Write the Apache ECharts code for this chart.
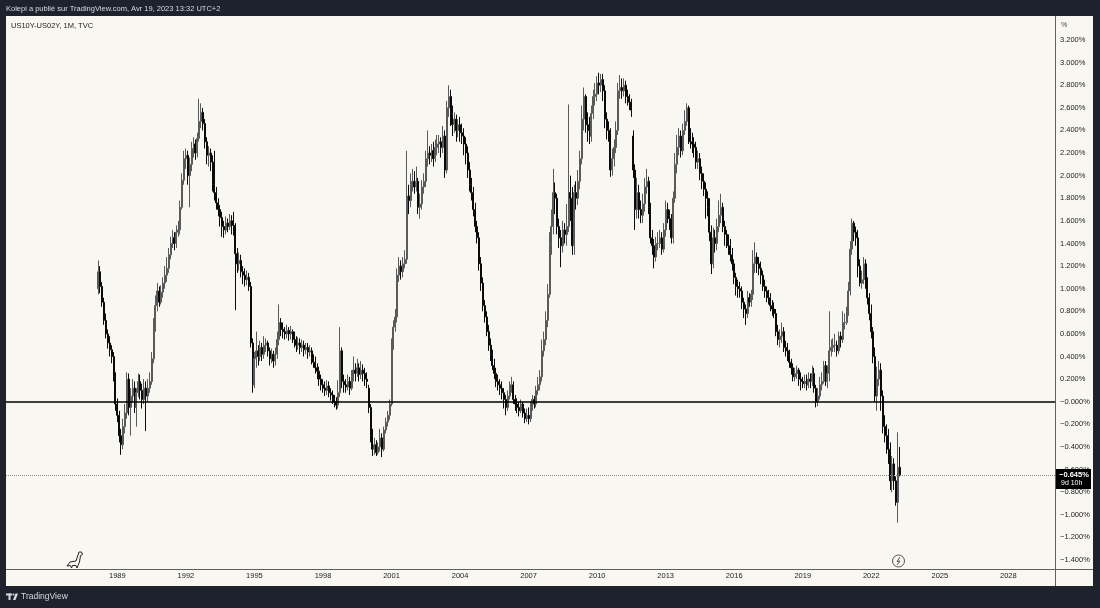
<!DOCTYPE html>
<html>
<head>
<meta charset="utf-8">
<script src="https://cdn.jsdelivr.net/npm/echarts@6/dist/echarts.min.js"></script>
<style>
html, body { margin: 0; padding: 0; background: #1e222d; }
#chart { width: 1100px; height: 608px; }
</style>
</head>
<body>
<div id="chart"></div>
<script>
// US10Y-US02Y monthly candles, 1988-03 .. 2023-04 (values in %)
var firstCandle = '1988-03';
var axisStart = [1984, 3];   // first slot of the time scale
var axisSlots = 551;         // months shown across the pane (to early 2030)
var firstYearLabel = 1989;

var opens = [
  1.00, 1.15, 1.02, 0.88, 0.72, 0.60, 0.52, 0.46, 0.40, 0.22,
  -0.02, -0.12, -0.30, -0.38, -0.22, -0.10, 0.20, -0.05, 0.05, 0.12, -0.05, 0.08,
  0.18, 0.10, 0.02, 0.12, 0.05, 0.12, 0.18, 0.38, 0.68, 0.85, 0.98, 0.88,
  0.97, 1.05, 1.12, 1.18, 1.30, 1.40, 1.45, 1.40, 1.50, 1.52, 1.72, 1.96,
  2.15, 2.18, 2.00, 2.10, 2.24, 2.28, 2.20, 2.33, 2.48, 2.56, 2.46, 2.30,
  2.18, 2.20, 2.12, 1.92, 1.85, 1.76, 1.70, 1.63, 1.55, 1.52, 1.58, 1.55,
  1.60, 1.56, 1.55, 1.31, 1.22, 1.25, 1.15, 1.12, 1.08, 1.10, 1.02, 0.52,
  0.15, 0.38, 0.45, 0.40, 0.48, 0.42, 0.50, 0.52, 0.45, 0.38, 0.42, 0.36,
  0.42, 0.55, 0.70, 0.64, 0.62, 0.60, 0.63, 0.60, 0.62, 0.58, 0.55, 0.50,
  0.52, 0.48, 0.50, 0.46, 0.48, 0.44, 0.45, 0.38, 0.35, 0.30, 0.27, 0.20,
  0.15, 0.12, 0.10, 0.14, 0.08, 0.06, 0.02, 0.00, -0.03, 0.08, 0.45, 0.18,
  0.15, 0.13, 0.18, 0.12, 0.22, 0.28, 0.25, 0.30, 0.24, 0.28, 0.25, 0.20,
  0.12, -0.05, -0.30, -0.42, -0.38, -0.45, -0.40, -0.32, -0.42, -0.25, -0.18, -0.12,
  -0.02, 0.52, 0.66, 0.75, 1.12, 1.20, 1.15, 1.22, 1.26, 1.82, 1.78, 1.92,
  1.95, 1.90, 1.95, 1.72, 1.75, 1.90, 1.95, 2.15, 2.20, 2.18, 2.22, 2.15,
  2.25, 2.28, 2.30, 2.25, 2.35, 2.05, 2.60, 2.70, 2.55, 2.45, 2.50, 2.40,
  2.45, 2.38, 2.35, 2.28, 2.20, 2.05, 1.92, 1.85, 1.70, 1.55, 1.45, 1.22,
  1.05, 0.85, 0.75, 0.62, 0.50, 0.42, 0.32, 0.25, 0.18, 0.15, 0.12, 0.08,
  0.02, -0.05, 0.05, 0.12, 0.15, 0.02, -0.02, -0.05, -0.08, -0.02, -0.10, -0.15,
  -0.12, -0.15, -0.05, 0.02, -0.02, 0.10, 0.15, 0.22, 0.45, 0.55, 0.72, 0.95,
  1.40, 1.55, 1.85, 1.80, 1.55, 1.45, 1.38, 1.52, 1.48, 1.55, 1.85, 1.80,
  1.38, 1.85, 1.80, 1.95, 2.15, 2.50, 2.70, 2.45, 2.40, 2.35, 2.55, 2.70,
  2.72, 2.82, 2.80, 2.85, 2.75, 2.50, 2.40, 2.38, 2.05, 2.15, 2.25, 2.40,
  2.75, 2.78, 2.75, 2.80, 2.70, 2.68, 2.65, 2.35, 2.05, 1.70, 1.85, 1.70,
  1.65, 1.75, 1.90, 1.95, 1.72, 1.45, 1.38, 1.28, 1.40, 1.40, 1.45, 1.35,
  1.52, 1.70, 1.65, 1.62, 1.45, 1.80, 2.10, 2.25, 2.35, 2.22, 2.40, 2.48,
  2.60, 2.35, 2.30, 2.28, 2.25, 2.12, 2.15, 2.02, 1.95, 1.88, 1.80, 1.72,
  1.50, 1.22, 1.45, 1.40, 1.55, 1.65, 1.72, 1.55, 1.48, 1.42, 1.38, 1.30,
  1.22, 1.10, 1.02, 1.00, 0.98, 0.88, 0.82, 0.78, 0.92, 0.88, 0.95, 1.22,
  1.28, 1.22, 1.18, 1.12, 1.02, 0.98, 0.95, 0.92, 0.85, 0.82, 0.78, 0.62,
  0.55, 0.58, 0.62, 0.48, 0.45, 0.42, 0.35, 0.30, 0.22, 0.25, 0.28, 0.20,
  0.18, 0.16, 0.18, 0.15, 0.20, 0.18, 0.25, 0.12, 0.00, 0.05, 0.15, 0.18,
  0.32, 0.18, 0.25, 0.45, 0.48, 0.50, 0.50, 0.45, 0.58, 0.55, 0.70, 0.70,
  0.80, 0.98, 1.35, 1.58, 1.50, 1.45, 1.20, 1.05, 1.08, 1.22, 1.05, 0.92,
  0.78, 0.62, 0.40, 0.05, 0.20, 0.28, 0.05, -0.22, -0.30, -0.40, -0.42, -0.70,
  -0.55, -0.70, -0.89, -0.58
];

var closes = [
  1.15, 1.02, 0.88, 0.72, 0.60, 0.52, 0.46, 0.40, 0.22, -0.02,
  -0.12, -0.30, -0.38, -0.22, -0.10, 0.20, -0.05, 0.05, 0.12, -0.05, 0.08, 0.18,
  0.10, 0.02, 0.12, 0.05, 0.12, 0.18, 0.38, 0.68, 0.85, 0.98, 0.88, 0.97,
  1.05, 1.12, 1.18, 1.30, 1.40, 1.45, 1.40, 1.50, 1.52, 1.72, 1.96, 2.15,
  2.18, 2.00, 2.10, 2.24, 2.28, 2.20, 2.33, 2.48, 2.56, 2.46, 2.30, 2.18,
  2.20, 2.12, 1.92, 1.85, 1.76, 1.70, 1.63, 1.55, 1.52, 1.58, 1.55, 1.60,
  1.56, 1.55, 1.31, 1.22, 1.25, 1.15, 1.12, 1.08, 1.10, 1.02, 0.52, 0.15,
  0.38, 0.45, 0.40, 0.48, 0.42, 0.50, 0.52, 0.45, 0.38, 0.42, 0.36, 0.42,
  0.55, 0.70, 0.64, 0.62, 0.60, 0.63, 0.60, 0.62, 0.58, 0.55, 0.50, 0.52,
  0.48, 0.50, 0.46, 0.48, 0.44, 0.45, 0.38, 0.35, 0.30, 0.27, 0.20, 0.15,
  0.12, 0.10, 0.14, 0.08, 0.06, 0.02, 0.00, -0.03, 0.08, 0.45, 0.18, 0.15,
  0.13, 0.18, 0.12, 0.22, 0.28, 0.25, 0.30, 0.24, 0.28, 0.25, 0.20, 0.18,
  -0.05, -0.30, -0.42, -0.38, -0.45, -0.40, -0.32, -0.42, -0.25, -0.18, -0.12, -0.02,
  0.52, 0.66, 0.75, 1.12, 1.20, 1.15, 1.22, 1.26, 1.82, 1.78, 1.92, 1.95,
  1.90, 1.95, 1.72, 1.75, 1.90, 1.95, 2.15, 2.20, 2.18, 2.22, 2.15, 2.25,
  2.28, 2.30, 2.25, 2.35, 2.05, 2.60, 2.70, 2.55, 2.45, 2.50, 2.40, 2.45,
  2.38, 2.35, 2.28, 2.20, 2.05, 1.92, 1.85, 1.70, 1.55, 1.45, 1.22, 1.05,
  0.85, 0.75, 0.62, 0.50, 0.42, 0.32, 0.25, 0.18, 0.15, 0.12, 0.08, 0.02,
  -0.05, 0.05, 0.12, 0.15, 0.02, -0.02, -0.05, -0.08, -0.02, -0.10, -0.15, -0.12,
  -0.15, -0.05, 0.02, -0.02, 0.10, 0.15, 0.22, 0.45, 0.55, 0.72, 0.95, 1.40,
  1.55, 1.85, 1.80, 1.55, 1.45, 1.38, 1.52, 1.48, 1.55, 1.85, 1.80, 1.38,
  1.85, 1.80, 1.95, 2.15, 2.50, 2.70, 2.45, 2.40, 2.35, 2.55, 2.70, 2.72,
  2.82, 2.80, 2.85, 2.75, 2.50, 2.40, 2.38, 2.05, 2.15, 2.25, 2.40, 2.75,
  2.78, 2.75, 2.80, 2.70, 2.68, 2.65, 2.58, 2.05, 1.70, 1.85, 1.70, 1.65,
  1.75, 1.90, 1.95, 1.72, 1.45, 1.38, 1.28, 1.40, 1.40, 1.45, 1.35, 1.52,
  1.70, 1.65, 1.62, 1.45, 1.80, 2.10, 2.25, 2.35, 2.22, 2.40, 2.48, 2.60,
  2.35, 2.30, 2.28, 2.25, 2.12, 2.15, 2.02, 1.95, 1.88, 1.80, 1.72, 1.50,
  1.22, 1.45, 1.40, 1.55, 1.65, 1.72, 1.55, 1.48, 1.42, 1.38, 1.30, 1.22,
  1.10, 1.02, 1.00, 0.98, 0.88, 0.82, 0.78, 0.92, 0.88, 0.95, 1.22, 1.28,
  1.22, 1.18, 1.12, 1.02, 0.98, 0.95, 0.92, 0.85, 0.82, 0.78, 0.62, 0.55,
  0.58, 0.62, 0.48, 0.45, 0.42, 0.35, 0.30, 0.22, 0.25, 0.28, 0.20, 0.18,
  0.16, 0.18, 0.15, 0.20, 0.18, 0.25, 0.12, 0.00, 0.05, 0.15, 0.18, 0.32,
  0.18, 0.25, 0.45, 0.48, 0.50, 0.50, 0.45, 0.58, 0.55, 0.70, 0.70, 0.80,
  0.98, 1.35, 1.58, 1.50, 1.45, 1.20, 1.05, 1.08, 1.22, 1.05, 0.92, 0.78,
  0.62, 0.40, 0.05, 0.20, 0.28, 0.05, -0.22, -0.30, -0.40, -0.42, -0.70, -0.55,
  -0.70, -0.89, -0.58, -0.645
];

var highs = [
  1.25, 1.20, 1.06, 0.92, 0.78, 0.64, 0.58, 0.50, 0.44, 0.26,
  0.03, -0.08, -0.24, -0.15, -0.02, 0.26, 0.25, 0.12, 0.20, 0.18, 0.12, 0.25,
  0.24, 0.16, 0.20, 0.18, 0.20, 0.26, 0.44, 0.74, 0.94, 1.05, 1.02, 1.03,
  1.10, 1.20, 1.28, 1.36, 1.46, 1.52, 1.50, 1.56, 1.60, 1.78, 2.02, 2.22,
  2.24, 2.22, 2.16, 2.30, 2.34, 2.32, 2.38, 2.68, 2.64, 2.60, 2.50, 2.34,
  2.26, 2.24, 2.18, 2.22, 1.90, 1.80, 1.74, 1.68, 1.60, 1.64, 1.62, 1.66,
  1.65, 1.68, 1.58, 1.36, 1.32, 1.30, 1.20, 1.18, 1.16, 1.14, 1.06, 0.56,
  0.44, 0.62, 0.50, 0.54, 0.52, 0.58, 0.56, 0.54, 0.48, 0.47, 0.45, 0.48,
  0.62, 0.86, 0.74, 0.70, 0.66, 0.68, 0.66, 0.67, 0.64, 0.62, 0.58, 0.57,
  0.56, 0.55, 0.54, 0.52, 0.52, 0.50, 0.48, 0.42, 0.40, 0.34, 0.31, 0.24,
  0.20, 0.18, 0.19, 0.18, 0.12, 0.10, 0.06, 0.04, 0.19, 0.66, 0.48, 0.24,
  0.20, 0.24, 0.22, 0.28, 0.40, 0.34, 0.38, 0.34, 0.36, 0.33, 0.30, 0.26,
  0.15, -0.02, -0.24, -0.32, -0.34, -0.36, -0.24, -0.28, -0.22, -0.14, -0.08, 0.02,
  0.56, 0.72, 0.82, 1.18, 1.28, 1.25, 1.28, 1.34, 2.22, 1.92, 2.02, 2.06,
  2.04, 2.08, 1.98, 1.84, 1.96, 2.02, 2.22, 2.40, 2.26, 2.28, 2.30, 2.32,
  2.36, 2.36, 2.34, 2.44, 2.40, 2.66, 2.80, 2.76, 2.62, 2.56, 2.54, 2.50,
  2.52, 2.46, 2.42, 2.34, 2.26, 2.12, 1.98, 1.90, 1.76, 1.60, 1.50, 1.28,
  1.10, 0.90, 0.80, 0.68, 0.56, 0.46, 0.38, 0.30, 0.24, 0.20, 0.18, 0.12,
  0.06, 0.10, 0.18, 0.22, 0.18, 0.06, 0.03, 0.00, 0.02, 0.00, -0.06, -0.06,
  -0.05, 0.00, 0.06, 0.05, 0.14, 0.22, 0.28, 0.55, 0.62, 0.80, 1.04, 1.50,
  1.70, 2.06, 1.94, 1.84, 1.62, 1.52, 1.60, 1.58, 1.75, 2.63, 2.00, 1.90,
  1.92, 1.95, 2.05, 2.22, 2.62, 2.78, 2.72, 2.56, 2.52, 2.62, 2.76, 2.82,
  2.88, 2.91, 2.90, 2.90, 2.80, 2.56, 2.48, 2.42, 2.24, 2.32, 2.48, 2.82,
  2.89, 2.86, 2.86, 2.84, 2.76, 2.72, 2.68, 2.40, 2.10, 1.98, 1.92, 1.78,
  1.84, 1.98, 2.06, 1.99, 1.76, 1.52, 1.44, 1.46, 1.50, 1.52, 1.50, 1.58,
  1.78, 1.76, 1.70, 1.66, 1.86, 2.20, 2.36, 2.42, 2.40, 2.46, 2.58, 2.64,
  2.62, 2.42, 2.38, 2.34, 2.30, 2.22, 2.20, 2.08, 2.02, 1.94, 1.86, 1.80,
  1.56, 1.54, 1.52, 1.62, 1.78, 1.84, 1.76, 1.60, 1.52, 1.48, 1.44, 1.36,
  1.26, 1.14, 1.08, 1.06, 1.02, 0.92, 0.86, 0.98, 0.96, 0.99, 1.34, 1.41,
  1.32, 1.28, 1.24, 1.16, 1.08, 1.02, 0.99, 0.96, 0.90, 0.88, 0.82, 0.68,
  0.64, 0.70, 0.66, 0.54, 0.52, 0.46, 0.38, 0.34, 0.30, 0.32, 0.30, 0.26,
  0.22, 0.24, 0.24, 0.26, 0.25, 0.32, 0.30, 0.15, 0.12, 0.22, 0.26, 0.36,
  0.36, 0.32, 0.80, 0.55, 0.56, 0.60, 0.54, 0.62, 0.62, 0.80, 0.78, 0.84,
  1.06, 1.42, 1.62, 1.60, 1.55, 1.52, 1.26, 1.16, 1.28, 1.26, 1.10, 0.96,
  0.86, 0.66, 0.48, 0.31, 0.36, 0.34, 0.10, -0.12, -0.20, -0.24, -0.36, -0.48,
  -0.50, -0.66, -0.27, -0.40
];

var lows = [
  0.95, 0.96, 0.84, 0.68, 0.56, 0.47, 0.40, 0.34, 0.18, -0.08,
  -0.18, -0.36, -0.47, -0.42, -0.28, -0.15, -0.12, -0.30, 0.00, -0.10, -0.22, 0.04,
  0.02, -0.06, -0.02, -0.26, 0.00, 0.08, 0.15, 0.34, 0.62, 0.80, 0.84, 0.86,
  0.92, 1.00, 1.06, 1.14, 1.26, 1.36, 1.34, 1.36, 1.46, 1.48, 1.70, 1.92,
  2.06, 1.92, 1.72, 2.04, 2.16, 2.14, 2.16, 2.30, 2.42, 2.40, 2.24, 2.10,
  2.08, 2.04, 1.86, 1.78, 1.70, 1.64, 1.55, 1.46, 1.45, 1.48, 1.50, 1.52,
  1.48, 1.47, 0.81, 1.14, 1.16, 1.10, 1.04, 1.02, 1.03, 0.98, 0.48, 0.08,
  0.12, 0.30, 0.32, 0.36, 0.36, 0.38, 0.44, 0.40, 0.32, 0.34, 0.30, 0.32,
  0.38, 0.50, 0.58, 0.56, 0.55, 0.56, 0.54, 0.55, 0.52, 0.48, 0.44, 0.46,
  0.42, 0.44, 0.40, 0.42, 0.38, 0.40, 0.33, 0.30, 0.25, 0.20, 0.14, 0.10,
  0.08, 0.05, 0.06, 0.04, 0.01, -0.02, -0.05, -0.07, -0.06, 0.04, 0.12, 0.08,
  0.08, 0.10, 0.06, 0.10, 0.18, 0.18, 0.22, 0.18, 0.20, 0.18, 0.14, 0.12,
  -0.10, -0.36, -0.48, -0.47, -0.48, -0.47, -0.44, -0.49, -0.44, -0.28, -0.22, -0.16,
  -0.04, 0.46, 0.62, 0.70, 1.06, 1.08, 1.10, 1.18, 1.22, 1.66, 1.72, 1.86,
  1.84, 1.86, 1.66, 1.62, 1.70, 1.84, 1.90, 2.08, 2.10, 2.12, 2.08, 2.12,
  2.18, 2.20, 2.16, 2.20, 1.98, 2.02, 2.52, 2.44, 2.35, 2.38, 2.30, 2.34,
  2.30, 2.28, 2.18, 2.10, 1.98, 1.86, 1.78, 1.64, 1.50, 1.40, 1.16, 0.98,
  0.80, 0.70, 0.58, 0.45, 0.36, 0.28, 0.20, 0.13, 0.10, 0.06, 0.02, -0.06,
  -0.12, -0.08, 0.02, 0.08, -0.02, -0.08, -0.10, -0.13, -0.10, -0.14, -0.19, -0.18,
  -0.20, -0.18, -0.08, -0.06, -0.05, 0.06, 0.10, 0.18, 0.40, 0.50, 0.66, 0.92,
  1.30, 1.48, 1.66, 1.48, 1.36, 1.19, 1.32, 1.40, 1.38, 1.50, 1.60, 1.30,
  1.30, 1.70, 1.74, 1.88, 2.10, 2.40, 2.38, 2.30, 2.28, 2.30, 2.50, 2.62,
  2.66, 2.72, 2.74, 2.66, 2.42, 2.32, 2.30, 1.99, 2.00, 2.08, 2.20, 2.36,
  2.68, 2.68, 2.70, 2.64, 2.62, 2.58, 2.52, 1.98, 1.52, 1.62, 1.62, 1.58,
  1.58, 1.68, 1.84, 1.66, 1.40, 1.30, 1.18, 1.24, 1.34, 1.36, 1.30, 1.32,
  1.46, 1.58, 1.52, 1.40, 1.40, 1.76, 2.02, 2.18, 2.16, 2.18, 2.36, 2.44,
  2.28, 2.24, 2.20, 2.16, 2.06, 2.06, 1.96, 1.88, 1.82, 1.62, 1.64, 1.42,
  1.13, 1.18, 1.32, 1.34, 1.50, 1.58, 1.50, 1.38, 1.36, 1.30, 1.24, 1.16,
  1.04, 0.94, 0.92, 0.92, 0.82, 0.74, 0.68, 0.74, 0.84, 0.84, 0.90, 1.14,
  1.14, 1.12, 1.04, 0.98, 0.92, 0.88, 0.86, 0.80, 0.76, 0.74, 0.58, 0.50,
  0.48, 0.52, 0.44, 0.40, 0.36, 0.30, 0.24, 0.18, 0.18, 0.20, 0.14, 0.10,
  0.12, 0.12, 0.10, 0.12, 0.12, 0.14, 0.08, -0.05, -0.04, 0.02, 0.10, 0.16,
  0.14, 0.12, 0.18, 0.40, 0.44, 0.44, 0.40, 0.42, 0.48, 0.52, 0.64, 0.68,
  0.76, 0.94, 1.30, 1.42, 1.38, 1.10, 1.02, 1.00, 1.04, 1.00, 0.86, 0.72,
  0.56, 0.34, 0.00, -0.08, 0.14, -0.08, -0.28, -0.36, -0.46, -0.55, -0.78, -0.80,
  -0.78, -0.92, -1.07, -0.66
];

var yMin = -1.4, yMax = 3.2, yStep = 0.2;
var lastPrice = closes[closes.length - 1];

// month slots of the time scale
var months = [];
for (var k = 0; k < axisSlots; k++) {
  var mm = axisStart[1] - 1 + k;
  var yy = axisStart[0] + Math.floor(mm / 12);
  var m = (mm % 12) + 1;
  months.push(yy + '-' + (m < 10 ? '0' + m : m));
}
var offset = months.indexOf(firstCandle);

var candles = [];
for (var i = 0; i < closes.length; i++) {
  candles.push([offset + i, opens[i], closes[i], lows[i], highs[i]]);
}

function pct(v) {
  var s = Math.abs(v).toFixed(3) + '%';
  if (v < 0 || Math.abs(v) < 1e-9) s = '\u2212' + s;
  return s;
}

var font = 'Liberation Sans, Arial, sans-serif';
var frame = '#1e222d';
var chart = echarts.init(document.getElementById('chart'));

chart.setOption({
  animation: false,
  backgroundColor: '#f8f7f2',
  grid: { left: 6, right: 45, top: 40, bottom: 48 },
  xAxis: {
    type: 'category',
    data: months,
    boundaryGap: true,
    offset: 9,
    axisLine: { show: false },
    axisTick: { show: false },
    splitLine: { show: false },
    axisLabel: {
      margin: 3,
      color: '#222',
      fontSize: 7.5,
      fontFamily: font,
      interval: function (idx, val) {
        var yr = +val.slice(0, 4);
        return val.slice(5) === '01' && yr % 3 === 0 && yr >= firstYearLabel;
      },
      formatter: function (val) { return val.slice(0, 4); }
    }
  },
  yAxis: {
    type: 'value',
    position: 'right',
    min: yMin,
    max: yMax,
    interval: yStep,
    axisLine: { show: false },
    axisTick: { show: false },
    splitLine: { show: false },
    axisLabel: {
      margin: 5,
      color: '#222',
      fontSize: 7.5,
      fontFamily: font,
      formatter: pct
    }
  },
  series: [{
    type: 'candlestick',
    data: candles,
    encode: { x: 0, y: [1, 2, 3, 4] },
    barWidth: 1.5,
    itemStyle: {
      color: '#7c7c7c',
      borderColor: '#5a5a5a',
      color0: '#0a0a0a',
      borderColor0: '#0a0a0a',
      borderWidth: 1
    },
    markLine: {
      silent: true,
      symbol: 'none',
      label: { show: false },
      data: [
        { yAxis: 0, lineStyle: { color: '#000', width: 1.5, type: 'solid' } },
        { yAxis: lastPrice, lineStyle: { color: '#8a8a8a', width: 1, type: 'dotted' } }
      ]
    }
  }],
  graphic: [
    // dark frame around the pane
    { type: 'rect', z: 50, shape: { x: 0, y: 0, width: 1100, height: 16 }, style: { fill: frame } },
    { type: 'rect', z: 50, shape: { x: 0, y: 586, width: 1100, height: 22 }, style: { fill: frame } },
    { type: 'rect', z: 50, shape: { x: 0, y: 0, width: 6, height: 608 }, style: { fill: frame } },
    { type: 'rect', z: 50, shape: { x: 1093, y: 0, width: 7, height: 608 }, style: { fill: frame } },
    // price scale separator and time scale line
    { type: 'line', z: 40, shape: { x1: 1055.5, y1: 16, x2: 1055.5, y2: 586 }, style: { stroke: '#5f5f5f', lineWidth: 1 } },
    { type: 'line', z: 40, shape: { x1: 6, y1: 569.5, x2: 1093, y2: 569.5 }, style: { stroke: '#5f5f5f', lineWidth: 1.2 } },
    // header and titles
    { type: 'text', z: 60, x: 6, y: 9, style: { text: 'Kolepi a publié sur TradingView.com, Avr 19, 2023 13:32 UTC+2', fill: '#d8dae0', font: '7.5px ' + font, textVerticalAlign: 'middle' } },
    { type: 'text', z: 60, x: 11, y: 26, style: { text: 'US10Y-US02Y, 1M, TVC', fill: '#222', font: '7.5px ' + font, textVerticalAlign: 'middle' } },
    { type: 'text', z: 60, x: 1061, y: 25, style: { text: '%', fill: '#444', font: '7px ' + font, textVerticalAlign: 'middle' } },
    // last price badge
    { type: 'rect', z: 70, shape: { x: 1056, y: 469, width: 35, height: 20 }, style: { fill: '#000' } },
    { type: 'text', z: 71, x: 1059, y: 474.5, style: { text: pct(lastPrice), fill: '#fff', font: 'bold 7.5px ' + font, textVerticalAlign: 'middle' } },
    { type: 'text', z: 71, x: 1061, y: 483.5, style: { text: '9d 10h', fill: '#fff', font: '7px ' + font, textVerticalAlign: 'middle' } },
    // small icons inside the pane
    { type: 'polygon', z: 60, x: 67, y: 551,
      shape: { points: [[0, 15], [3, 11], [9, 10], [11, 4], [12, 1], [14.5, 1], [15.5, 3.5], [13.5, 4.5], [12.5, 11], [11, 14.5], [10, 17], [9, 14.5], [5.5, 14.5], [4.5, 17], [3.5, 14.5]] },
      style: { fill: 'none', stroke: '#222', lineWidth: 1 } },
    { type: 'circle', z: 60, shape: { cx: 898.5, cy: 561, r: 6 }, style: { fill: 'none', stroke: '#555', lineWidth: 1 } },
    { type: 'polyline', z: 60, shape: { points: [[900, 557], [897, 561.5], [900, 561], [897, 565]] }, style: { fill: 'none', stroke: '#555', lineWidth: 1 } },
    // TradingView footer
    { type: 'rect', z: 60, shape: { x: 6, y: 593.5, width: 6, height: 2 }, style: { fill: '#d8dae0' } },
    { type: 'rect', z: 60, shape: { x: 8.5, y: 593.5, width: 2, height: 6.5 }, style: { fill: '#d8dae0' } },
    { type: 'circle', z: 60, shape: { cx: 13.5, cy: 594.5, r: 1 }, style: { fill: '#d8dae0' } },
    { type: 'polygon', z: 60, shape: { points: [[15.5, 593.5], [18, 593.5], [15.5, 600], [13, 600]] }, style: { fill: '#d8dae0' } },
    { type: 'text', z: 60, x: 21, y: 597, style: { text: 'TradingView', fill: '#d8dae0', font: '8.5px ' + font, textVerticalAlign: 'middle' } }
  ]
});
</script>
</body>
</html>
